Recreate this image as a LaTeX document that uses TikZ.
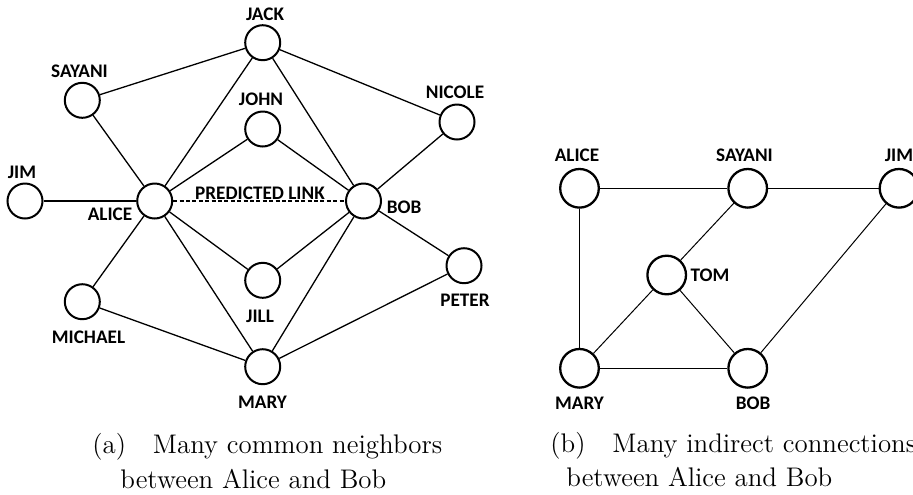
\documentclass[tikz,border=0pt]{standalone}
\usepackage{fontspec}
\newfontfamily\lblfont{Carlito}
\tikzset{
  person/.style={circle, draw, line width=1pt, minimum size=17.5pt, inner sep=0pt},
  bigperson/.style={circle, draw, line width=1.15pt, minimum size=19.3pt, inner sep=0pt},
  nametag/.style={font=\lblfont\bfseries\fontsize{9.6}{11}\selectfont, inner sep=0pt},
  tie/.style={line width=0.65pt},
  thintie/.style={line width=0.5pt},
  subcap/.style={font=\fontsize{13.45}{16}\selectfont, anchor=base west, inner sep=0pt}
}
\begin{document}
\begin{tikzpicture}[x=0.5pt, y=-0.5pt]
    \useasboundingbox (0,0) rectangle (913,494);
    % (a) common neighbors
    \node[person] (jack)    at (262.7,42.7)  {};
    \node[person] (sayani)  at (82.3,100.3)  {};
    \node[person] (john)    at (262.7,129)   {};
    \node[person] (nicole)  at (457,122)     {};
    \node[person] (jim)     at (25,201)      {};
    \node[person] (alice)   at (154.7,201)   {};
    \node[person] (bob)     at (363.5,201)   {};
    \node[person] (jill)    at (262.7,280.3) {};
    \node[person] (michael) at (82.3,301.7)  {};
    \node[person] (mary)    at (262.7,366.7) {};
    \node[person] (peter)   at (464,265.7)   {};
    \node[nametag] (jacklbl)    at (265,14)    {JACK};
    \node[nametag] (sayanilbl)  at (79.5,71)   {SAYANI};
    \node[nametag] (johnlbl)    at (261,99.5)  {JOHN};
    \node[nametag] (nicolelbl)  at (455,92.5)  {NICOLE};
    \node[nametag] (jimlbl)     at (22,172)    {JIM};
    \node[nametag] (alicelbl)   at (110,214.5) {ALICE};
    \node[nametag] (boblbl)     at (404,207.5) {BOB};
    \node[nametag] (jilllbl)    at (260,316)   {JILL};
    \node[nametag] (michaellbl) at (88.5,337)  {MICHAEL};
    \node[nametag] (marylbl)    at (262.5,402) {MARY};
    \node[nametag] (peterlbl)   at (465,300)   {PETER};
    \node[nametag] (predlbl)    at (260,193)   {PREDICTED LINK};
    \draw[tie] (sayani) -- (jack);
    \draw[tie] (sayani) -- (alice);
    \draw[tie] (jack) -- (alice);
    \draw[tie] (jack) -- (bob);
    \draw[tie] (jack) -- (nicole);
    \draw[tie] (john) -- (alice);
    \draw[tie] (john) -- (bob);
    \draw[tie] (nicole) -- (bob);
    \draw[tie] (jim) -- (alice);
    \draw[tie, dash pattern=on 2pt off 1.2pt] (alice) -- (bob);
    \draw[tie] (alice) -- (michael);
    \draw[tie] (alice) -- (mary);
    \draw[tie] (alice) -- (jill);
    \draw[tie] (bob) -- (jill);
    \draw[tie] (bob) -- (mary);
    \draw[tie] (bob) -- (peter);
    \draw[tie] (michael) -- (mary);
    \draw[tie] (peter) -- (mary);
    \node[subcap] (capa1) at (92,453)  {(a)\quad Many common neighbors};
    \node[subcap] (capa2) at (120,488) {between Alice and Bob};
    % (b) indirect connections
    \node[bigperson] (alice2)  at (579.5,188.3) {};
    \node[bigperson] (sayani2) at (747.7,188.3) {};
    \node[bigperson] (jim2)    at (899,188.3)   {};
    \node[bigperson] (tom2)    at (666.7,275)   {};
    \node[bigperson] (mary2)   at (579.5,368.3) {};
    \node[bigperson] (bob2)    at (747.7,368.3) {};
    \node[nametag] (alice2lbl)  at (577,155)   {ALICE};
    \node[nametag] (sayani2lbl) at (744.5,155) {SAYANI};
    \node[nametag] (jim2lbl)    at (899,155)   {JIM};
    \node[nametag] (tom2lbl)    at (710,275)   {TOM};
    \node[nametag] (mary2lbl)   at (579.5,403) {MARY};
    \node[nametag] (bob2lbl)    at (753,403)   {BOB};
    \draw[thintie] (alice2) -- (sayani2);
    \draw[thintie] (sayani2) -- (jim2);
    \draw[thintie] (alice2) -- (mary2);
    \draw[thintie] (sayani2) -- (tom2);
    \draw[thintie] (tom2) -- (mary2);
    \draw[thintie] (tom2) -- (bob2);
    \draw[thintie] (mary2) -- (bob2);
    \draw[thintie] (bob2) -- (jim2);
    \node[subcap] (capb1) at (550,452) {(b)\quad Many indirect connections};
    \node[subcap] (capb2) at (566,486) {between Alice and Bob};
\end{tikzpicture}
\end{document}
